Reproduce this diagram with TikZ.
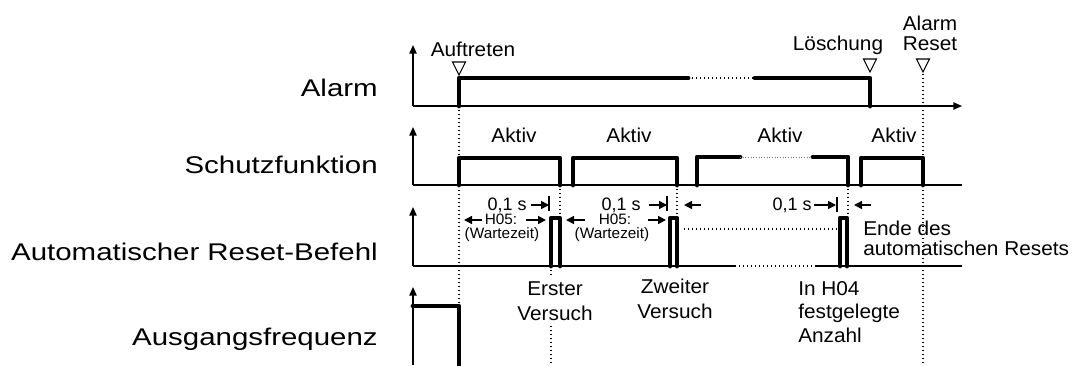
\documentclass[tikz,border=0pt]{standalone}
\usepackage{fontspec}
\setmainfont{Liberation Sans}
\newfontfamily\bigff{Liberation Sans}[FakeStretch=1.22]
\newfontfamily\medff{Liberation Sans}[FakeStretch=1.04]
\newfontfamily\zeroff{Liberation Sans}[FakeStretch=1.0]
\newfontfamily\smff{Liberation Sans}[FakeStretch=1.02]
\usetikzlibrary{arrows.meta}
\tikzset{
  sig/.style={line width=3.6pt, line cap=round, line join=round},
  axisline/.style={line width=1.2pt},
  axarrow/.style={line width=1.2pt, -{Triangle[length=6.5pt,width=5.5pt]}},
  dimarrow/.style={line width=1.2pt, -{Triangle[length=6pt,width=6pt]}},
  dotline/.style={line width=0.9pt, dash pattern=on 0.9pt off 2.1pt},
  marker/.style={line width=0.8pt},
  biglbl/.style={font=\bigff\fontsize{18.1}{20}\selectfont, anchor=base east, inner sep=0pt},
  medlbl/.style={font=\medff\fontsize{15}{17}\selectfont, anchor=base, inner sep=0pt},
  zerolbl/.style={font=\zeroff\fontsize{13.5}{16}\selectfont, anchor=base east, inner sep=0pt},
  smlbl/.style={font=\smff\fontsize{11.3}{12}\selectfont, anchor=base, inner sep=0pt},
}
\begin{document}
\begin{tikzpicture}[x=0.75pt,y=-0.75pt]
\useasboundingbox (0,0) rectangle (1077,365);

% ---------- row labels ----------
\node[biglbl] (lAlarm) at (378,96) {Alarm};
\node[biglbl] (lSchutz) at (378,173) {Schutzfunktion};
\node[biglbl] (lReset) at (378,260) {Automatischer Reset-Befehl};
\node[biglbl] (lFreq) at (378,345) {Ausgangsfrequenz};

% ---------- long dotted guide lines ----------
\coordinate (g1a) at (459,106); \coordinate (g1b) at (459,304);
\draw[dotline] (g1a) -- (g1b);
\coordinate (g2a) at (923,74); \coordinate (g2b) at (923,365);
\draw[dotline] (g2a) -- (g2b);
\coordinate (g3a) at (551,266); \coordinate (g3b) at (551,276);
\coordinate (g3c) at (551,326); \coordinate (g3d) at (551,365);
\draw[dotline] (g3a) -- (g3b) (g3c) -- (g3d);

% ---------- row 1: Alarm ----------
\coordinate (o1) at (413,106);
\draw[axarrow] (o1) -- (413,45);
\draw[axarrow] (o1) -- (962,106);
\draw[sig] (459,106) -- (459,78) -- (688,78);
\draw[dotline] (688,78) -- (755,78);
\draw[sig] (755,78) -- (870,78) -- (870,106);
\draw[marker] (452.5,62) -- (465.5,62) -- (459,75) -- cycle;
\draw[marker] (863.5,59) -- (876.5,59) -- (870,72) -- cycle;
\draw[marker] (916.5,59) -- (929.5,59) -- (923,72) -- cycle;
\node[medlbl] (auf) at (473,56) {Auftreten};
\node[medlbl] (loe) at (838,50) {Löschung};
\node[medlbl] (ar1) at (930,30) {Alarm};
\node[medlbl] (ar2) at (930,50) {Reset};

% ---------- row 2: Schutzfunktion ----------
\coordinate (o2) at (413,185);
\draw[axarrow] (o2) -- (413,127);
\draw[axisline] (o2) -- (962,185);
\draw[sig] (459,185) -- (459,158) -- (560,158) -- (560,185);
\draw[sig] (573,185) -- (573,158) -- (677,158) -- (677,185);
\draw[sig] (697,185) -- (697,157) -- (740,157);
\draw[line width=0.6pt, gray, dash pattern=on 0.8pt off 1.2pt] (740,157) -- (813,157);
\draw[sig] (813,157) -- (848,157) -- (848,185);
\draw[sig] (861,185) -- (861,158) -- (923,158) -- (923,185);
\node[medlbl] (ak1) at (514,142) {Aktiv};
\node[medlbl] (ak2) at (629,142) {Aktiv};
\node[medlbl] (ak3) at (780,142) {Aktiv};
\node[medlbl] (ak4) at (894,142) {Aktiv};

% ---------- row 3: Automatischer Reset-Befehl ----------
\coordinate (o3) at (413,266);
\draw[axarrow] (o3) -- (413,207);
\draw[axisline] (o3) -- (735,266);
\draw[dotline] (735,266) -- (815,266);
\draw[axisline] (815,266) -- (962,266);
% short dotted links
\draw[dotline] (560,185) -- (560,216);
\draw[dotline] (677,185) -- (677,216);
\draw[dotline] (848,185) -- (848,216);
\draw[dotline] (684,229) -- (837,229);
% pulses
\draw[sig] (551,266) -- (551,218) -- (560,218) -- (560,266);
\draw[sig] (670,266) -- (670,218) -- (677,218) -- (677,266);
\draw[sig] (840,266) -- (840,218) -- (847,218) -- (847,266);

% 0,1 s dimensions
\node[zerolbl] (z1) at (527,210) {0,1 s};
\draw[dimarrow] (531,205) -- (549,205);
\draw[axisline] (549,196) -- (549,211);
\node[zerolbl] (z2) at (641,210) {0,1 s};
\draw[dimarrow] (649,205) -- (667,205);
\draw[axisline] (667,196) -- (667,211);
\draw[dimarrow] (701,205) -- (684,205);
\node[zerolbl] (z3) at (812,210) {0,1 s};
\draw[dimarrow] (814,205) -- (836,205);
\draw[axisline] (837,197) -- (837,212);
\draw[dimarrow] (871,205) -- (854,205);

% H05 dimensions
\node[smlbl] (h1) at (501,224) {H05:};
\node[smlbl] (w1) at (502,238) {(Wartezeit)};
\draw[dimarrow] (482,220) -- (464,220);
\draw[dimarrow] (526,220) -- (546,220);
\node[smlbl] (h2) at (615,224) {H05:};
\node[smlbl] (w2) at (612,238) {(Wartezeit)};
\draw[dimarrow] (585,220) -- (566,220);
\draw[dimarrow] (648,220) -- (666,220);

\node[medlbl, anchor=base west] (ende1) at (863,235) {Ende des};
\node[medlbl, anchor=base west] (ende2) at (863,255) {automatischen Resets};

% labels below row 3
\node[medlbl] (v1a) at (555,295) {Erster};
\node[medlbl] (v1b) at (555,320) {Versuch};
\node[medlbl] (v2a) at (675,293) {Zweiter};
\node[medlbl] (v2b) at (675,318) {Versuch};
\node[medlbl, anchor=base west] (n1) at (798,295) {In H04};
\node[medlbl, anchor=base west] (n2) at (798,318) {festgelegte};
\node[medlbl, anchor=base west] (n3) at (798,342) {Anzahl};

% ---------- row 4: Ausgangsfrequenz ----------
\coordinate (o4) at (413,365);
\draw[axarrow] (o4) -- (413,287);
\draw[sig] (413,306) -- (459,306) -- (459,368);
\end{tikzpicture}
\end{document}
